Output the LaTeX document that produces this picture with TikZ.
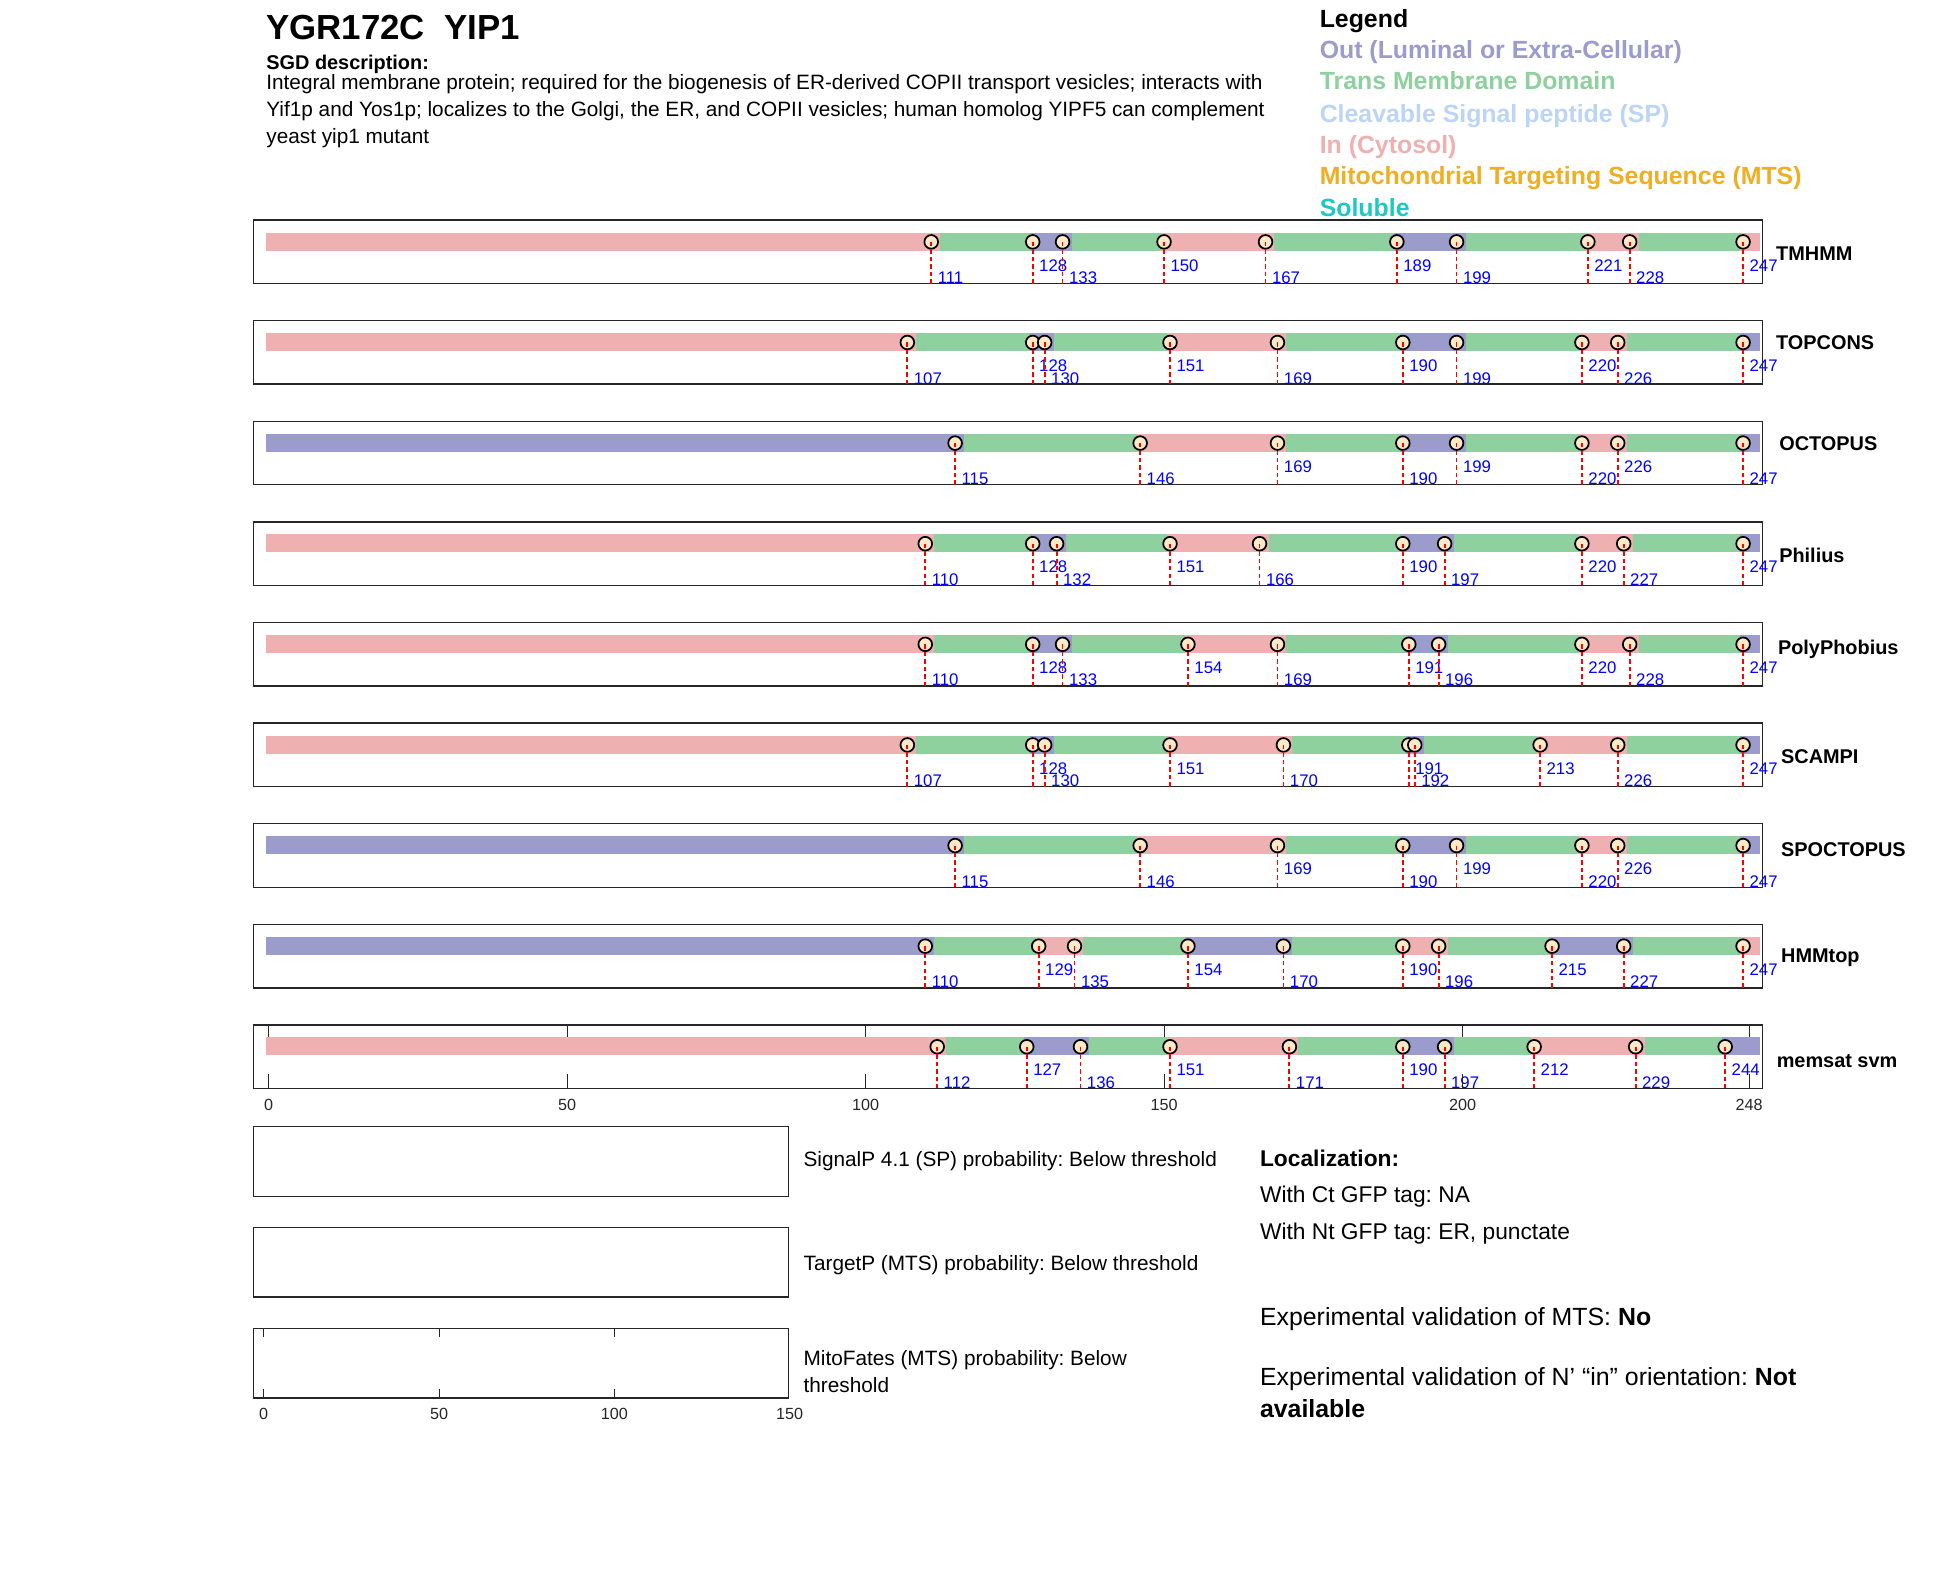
\documentclass[tikz,border=0pt]{standalone}
\usepackage{fontspec}
\setmainfont{Liberation Sans}
\frenchspacing
\definecolor{segin}{RGB}{238,176,176}
\definecolor{segtm}{RGB}{143,209,158}
\definecolor{segout}{RGB}{155,155,204}
\definecolor{legsp}{RGB}{188,212,245}
\definecolor{legmts}{RGB}{240,174,34}
\definecolor{legsol}{RGB}{31,200,200}
\definecolor{dotfill}{RGB}{253,232,200}
\definecolor{axisgray}{RGB}{38,38,38}
\tikzset{
  panelframe/.style={draw=axisgray, line width=1.1pt},
  tmdot/.style={circle, draw=black, line width=1.4pt, fill=dotfill, minimum size=11pt, inner sep=0pt},
  cutline/.style={red, line width=1.5pt, dash pattern=on 3.5pt off 2.5pt},
  cutnum/.style={blue, anchor=base west, inner sep=0pt, font=\fontsize{13.5}{14}\selectfont},
  toolname/.style={anchor=west, inner sep=0pt, font=\fontsize{16}{18}\selectfont\bfseries},
  legline/.style={anchor=base west, inner sep=0pt, font=\fontsize{20}{22}\selectfont\bfseries},
  infotext/.style={anchor=base west, inner sep=0pt, font=\fontsize{16.7}{18}\selectfont},
  ticklbl/.style={anchor=base, inner sep=0pt, text=axisgray, font=\fontsize{13}{14}\selectfont},
}
% one prediction track: name, top, segments (end/colour), cut sites (pos/baseline), label x, label y, label
\newcommand{\tmpanel}[7]{%
  \begin{scope}[shift={(216,#2)}, x=4.8pt]
    \draw[panelframe] (-2.5,0) rectangle (250.2,51);
    \foreach \e/\c [remember=\e as \s (initially -0.4)] in {#3}
      \fill[\c] (\s,10) rectangle (\e,24.5);
    \foreach \m/\h in {#4} {
      \node[tmdot] (#1m\m) at (\m,17.5) {};
      \coordinate (#1b\m) at (\m,51);
      \draw[cutline] (#1m\m.center) -- (#1b\m);
      \node[cutnum] (#1n\m) at (\m+1.05,\h) {\m};
    }
  \end{scope}
  \node[toolname] (#1) at (#5,#6) {#7};
}
\begin{document}
\begin{tikzpicture}[x=1pt,y=-1pt]
  \fill[white] (0,0) rectangle (1568,1265);
  \useasboundingbox (0,0) rectangle (1568,1265);

  % header
  \node[anchor=base west, inner sep=0pt, font=\fontsize{28}{30}\selectfont\bfseries] (title) at (214,32) {YGR172C\ \ YIP1};
  \node[infotext, font=\fontsize{16}{18}\selectfont\bfseries] (sgd) at (214,55.7) {SGD description:};
  \node[infotext] (desc1) at (214,71.7) {Integral membrane protein; required for the biogenesis of ER-derived COPII transport vesicles; interacts with};
  \node[infotext] (desc2) at (214,93.7) {Yif1p and Yos1p; localizes to the Golgi, the ER, and COPII vesicles; human homolog YIPF5 can complement};
  \node[infotext] (desc3) at (214,115.7) {yeast yip1 mutant};

  % legend
  \node[legline] (leg) at (1061,22.2) {Legend};
  \node[legline, text=segout] (legout) at (1061,47.2) {Out (Luminal or Extra-Cellular)};
  \node[legline, text=segtm] (legtm) at (1061,72.2) {Trans Membrane Domain};
  \node[legline, text=legsp] (legsp) at (1061,98.2) {Cleavable Signal peptide (SP)};
  \node[legline, text=segin] (legin) at (1061,123.2) {In (Cytosol)};
  \node[legline, text=legmts] (legmts) at (1061,148.2) {Mitochondrial Targeting Sequence (MTS)};
  \node[legline, text=legsol] (legsol) at (1061,174.2) {Soluble};

  % prediction tracks
  \tmpanel{tmhmm}{177}
    {112.5/segin,127.5/segtm,134.5/segout,149.5/segtm,168.5/segin,188.5/segtm,200.5/segout,220.5/segtm,229.5/segin,246.5/segtm,249.8/segin}
    {111/51,128/41,133/51,150/41,167/51,189/41,199/51,221/41,228/51,247/41}
    {1428}{204}{TMHMM}
  \tmpanel{topcons}{257.9}
    {108.5/segin,127.5/segtm,131.5/segout,150.5/segtm,170.5/segin,189.5/segtm,200.5/segout,219.5/segtm,227.5/segin,246.5/segtm,249.8/segout}
    {107/51,128/41,130/51,151/41,169/51,190/41,199/51,220/41,226/51,247/41}
    {1428}{275.5}{TOPCONS}
  \tmpanel{octopus}{338.8}
    {116.5/segout,145.5/segtm,170.5/segin,189.5/segtm,200.5/segout,219.5/segtm,227.5/segin,246.5/segtm,249.8/segout}
    {115/51,146/51,169/41,190/51,199/41,220/51,226/41,247/51}
    {1430.5}{357}{OCTOPUS}
  \tmpanel{philius}{419.7}
    {111.5/segin,127.5/segtm,133.5/segout,150.5/segtm,167.5/segin,189.5/segtm,198.5/segout,219.5/segtm,228.5/segin,246.5/segtm,249.8/segout}
    {110/51,128/41,132/51,151/41,166/51,190/41,197/51,220/41,227/51,247/41}
    {1430.5}{446.3}{Philius}
  \tmpanel{polyphobius}{500.6}
    {111.5/segin,127.5/segtm,134.5/segout,153.5/segtm,170.5/segin,190.5/segtm,197.5/segout,219.5/segtm,229.5/segin,246.5/segtm,249.8/segout}
    {110/51,128/41,133/51,154/41,169/51,191/41,196/51,220/41,228/51,247/41}
    {1429.5}{522}{PolyPhobius}
  \tmpanel{scampi}{581.5}
    {108.5/segin,127.5/segtm,131.5/segout,150.5/segtm,171.5/segin,190.5/segtm,193.5/segout,212.5/segtm,227.5/segin,246.5/segtm,249.8/segout}
    {107/51,128/41,130/51,151/41,170/51,191/41,192/51,213/41,226/51,247/41}
    {1432}{608.4}{SCAMPI}
  \tmpanel{spoctopus}{662.4}
    {116.5/segout,145.5/segtm,170.5/segin,189.5/segtm,200.5/segout,219.5/segtm,227.5/segin,246.5/segtm,249.8/segout}
    {115/51,146/51,169/41,190/51,199/41,220/51,226/41,247/51}
    {1432}{683}{SPOCTOPUS}
  \tmpanel{hmmtop}{743.3}
    {111.5/segout,128.5/segtm,136.5/segin,153.5/segtm,171.5/segout,189.5/segtm,197.5/segin,214.5/segtm,228.5/segout,246.5/segtm,249.8/segin}
    {110/51,129/41,135/51,154/41,170/51,190/41,196/51,215/41,227/51,247/41}
    {1432}{769.8}{HMMtop}
  \tmpanel{memsat}{824.2}
    {113.5/segin,126.5/segtm,137.5/segout,150.5/segtm,172.5/segin,189.5/segtm,198.5/segout,211.5/segtm,230.5/segin,243.5/segtm,249.8/segout}
    {112/51,127/41,136/51,151/41,171/51,190/41,197/51,212/41,229/51,244/41}
    {1428.5}{852.9}{memsat svm}

  % residue axis under the last track
  \begin{scope}[shift={(216,824.2)}, x=4.8pt]
    \foreach \t in {0,50,100,150,200,248} {
      \draw[axisgray, line width=0.8pt] (\t,0) -- (\t,10) (\t,51) -- (\t,39);
      \node[ticklbl] (mx\t) at (\t,68.5) {\t};
    }
  \end{scope}

  % signal / targeting predictors
  \draw[panelframe] (204,906) rectangle (634,962);
  \draw[panelframe] (204,987) rectangle (634,1043);
  \draw[panelframe] (204,1068) rectangle (634,1124);
  \foreach \v in {0,50,100} {
    \draw[axisgray, line width=0.8pt] (212+2.82*\v,1068) -- (212+2.82*\v,1075)
      (212+2.82*\v,1124) -- (212+2.82*\v,1117);
  }
  \foreach \v in {0,50,100,150}
    \node[ticklbl] (px\v) at (212+2.82*\v,1141.7) {\v};
  \node[infotext] (signalp) at (646,938) {SignalP 4.1 (SP) probability: Below threshold};
  \node[infotext] (targetp) at (646,1022) {TargetP (MTS) probability: Below threshold};
  \node[infotext] (mitofates) at (646,1098) {MitoFates (MTS) probability: Below};
  \node[infotext] (mitofates2) at (646,1120) {threshold};

  % localization and validation
  \node[infotext, font=\fontsize{18.3}{20}\selectfont\bfseries] (loc) at (1013,938) {Localization:};
  \node[infotext, font=\fontsize{18.3}{20}\selectfont] (locct) at (1013,967) {With Ct GFP tag: NA};
  \node[infotext, font=\fontsize{18.3}{20}\selectfont] (locnt) at (1013,997) {With Nt GFP tag: ER, punctate};
  \node[infotext, font=\fontsize{20}{22}\selectfont] (valmts) at (1013,1066) {Experimental validation of MTS: \textbf{No}};
  \node[infotext, font=\fontsize{20}{22}\selectfont] (valn) at (1013,1114) {Experimental validation of N’ “in” orientation: \textbf{Not}};
  \node[infotext, font=\fontsize{20}{22}\selectfont\bfseries] (valn2) at (1013,1140) {available};
\end{tikzpicture}
\end{document}
